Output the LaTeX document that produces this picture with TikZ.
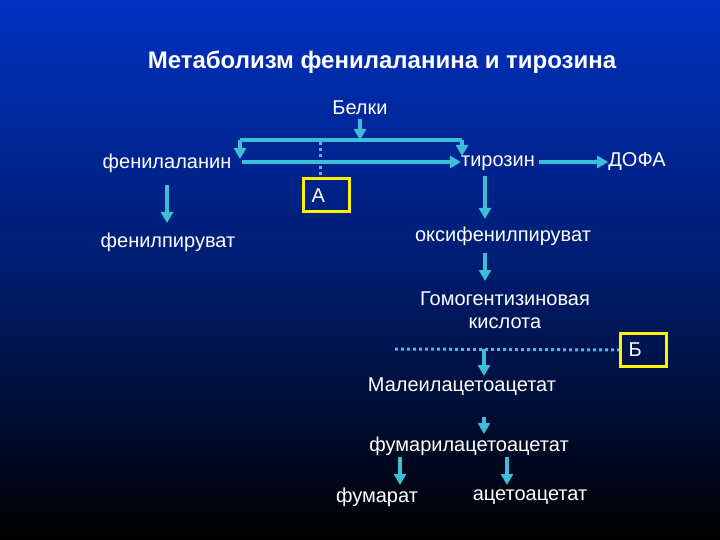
\documentclass[tikz,border=0pt]{standalone}
\usepackage{fontspec}
\setmainfont{Liberation Sans}
\usetikzlibrary{arrows.meta}
\definecolor{arr}{RGB}{60,190,215}
\definecolor{dotc}{RGB}{95,175,235}
\definecolor{bgtop}{RGB}{0,52,205}
\definecolor{bgmid}{RGB}{0,30,118}
\begin{document}
\begin{tikzpicture}[x=1pt,y=-1pt,
  lbl/.style={text=white,inner sep=0pt,font=\fontsize{20}{23}\selectfont},
  ttl/.style={text=white,inner sep=0pt,font=\fontsize{24}{28}\selectfont\bfseries},
  flow/.style={draw=arr,line width=3.5pt,-{Triangle[width=12pt,length=11pt]}},
  plain/.style={draw=arr,line width=3.5pt},
  dots/.style={draw=dotc,line width=3pt,dash pattern=on 3pt off 3pt},
  vdots/.style={draw=dotc,line width=3pt,dash pattern=on 3.5pt off 2.5pt},
  ybox/.style={draw=yellow,line width=3pt,minimum width=46pt,minimum height=33pt,text=white,font=\fontsize{20}{23}\selectfont,text width=30pt,align=left}]
\useasboundingbox (0,0) rectangle (720,540);
\shade[top color=bgtop,bottom color=black,middle color=bgmid] (0,-40) rectangle (720,540);
\node[ttl] (title) at (382,62) {Метаболизм фенилаланина и тирозина};
\node[lbl] (belki) at (360,108) {Белки};
\node[lbl] (phe) at (167,163) {фенилаланин};
\node[lbl] (tyr) at (498,163) {тирозин};
\node[lbl] (dopa) at (637,162) {ДОФА};
\node[lbl] (phpyr) at (168,242) {фенилпируват};
\node[lbl] (oxy) at (503,236) {оксифенилпируват};
\node[lbl,align=center] (hga) at (505,310) {Гомогентизиновая\\кислота};
\node[lbl] (mal) at (462,387) {Малеилацетоацетат};
\node[lbl] (fum) at (469,446) {фумарилацетоацетат};
\node[lbl] (fumarat) at (377,497) {фумарат};
\node[lbl] (aceto) at (530,497) {ацетоацетат};
\node[ybox] (boxA) at (326.5,195.5) {А};
\node[ybox] (boxB) at (643.5,350) {Б};
% branching from Белки
\coordinate (top) at (360,140);
\coordinate (tl) at (240,140);
\coordinate (tr) at (462,140);
\coordinate (l2) at (242,162);
\coordinate (dtop) at (320,142);
\coordinate (hl) at (395,349);
\coordinate (hmid) at (484,349);
\draw[flow] (belki.south) ++(0,4) -- (top);
\draw[plain] (tl) -- (tr);
\draw[flow] (tl) -- ++(0,19);
\draw[flow] (tr) -- ++(0,16);
\draw[flow] (l2) -- (tyr.west |- l2);
\draw[vdots] (dtop) -- (320,176);
\draw[flow] (tyr.east |- l2) ++(4,0) -- (dopa.west |- l2);
\draw[flow] (167,185) -- (167,223);
\draw[flow] (485,176) -- (485,219);
\draw[flow] (485,253) -- (485,281);
\draw[dots] (hl) -- (boxB.west);
\draw[flow] (hmid) -- (484,376);
\draw[flow] (484,417) -- (484,434);
\draw[flow] (400,457) -- (400,485);
\draw[flow] (507,457) -- (507,485);
\end{tikzpicture}
\end{document}
